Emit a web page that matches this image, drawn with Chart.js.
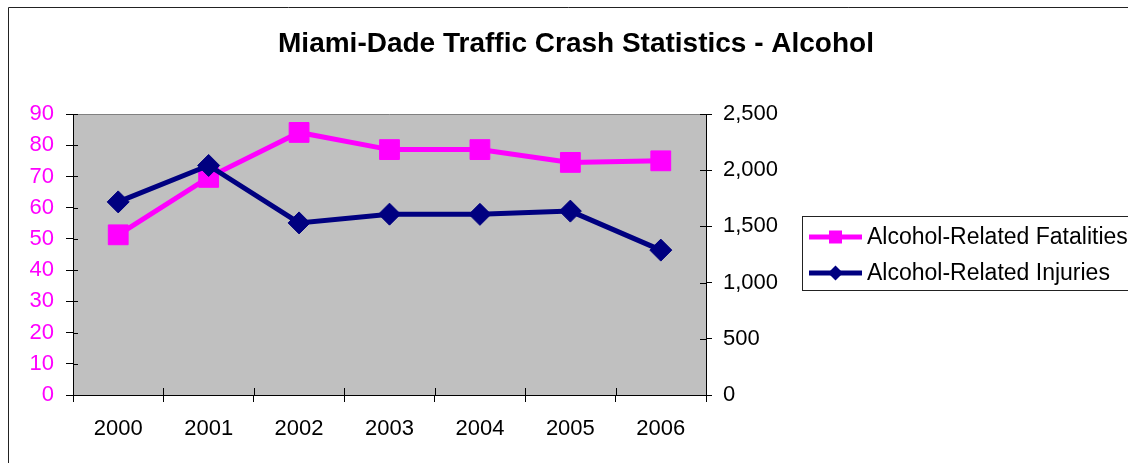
<!DOCTYPE html>
<html>
<head>
<meta charset="utf-8">
<script src="https://cdn.jsdelivr.net/npm/chart.js@4.4.1/dist/chart.umd.min.js"></script>
<style>
  html, body { margin: 0; padding: 0; background: #fff; }
  #wrap { width: 1128px; height: 463px; position: relative; }
</style>
</head>
<body>
<div id="wrap"><canvas id="chart"></canvas></div>
<script>
const title = 'Miami-Dade Traffic Crash Statistics - Alcohol';
const years = ['2000', '2001', '2002', '2003', '2004', '2005', '2006'];
const fatalities = [51.3, 69.7, 84.1, 78.6, 78.6, 74.5, 75.0];
const injuries = [1718, 2042, 1531, 1609, 1607, 1636, 1289];
const seriesNames = ['Alcohol-Related Fatalities', 'Alcohol-Related Injuries'];

const FONT = '"Liberation Sans", Arial, sans-serif';
const MAGENTA = '#FF00FF';
const NAVY = '#000080';

// frame, title, plot background, inner tick marks and the boxed legend
const excelLook = {
    id: 'excelLook',
    beforeDraw(chart) {
        const {ctx, chartArea: a} = chart;
        ctx.save();
        ctx.fillStyle = '#C0C0C0';
        ctx.fillRect(a.left, a.top, a.right - a.left, a.bottom - a.top);
        ctx.strokeStyle = '#808080';
        ctx.lineWidth = 1;
        ctx.beginPath();
        ctx.moveTo(a.left, a.top + 0.5);
        ctx.lineTo(a.right, a.top + 0.5);
        ctx.stroke();

        ctx.strokeStyle = '#222';
        ctx.beginPath();
        ctx.moveTo(8.5, 463);
        ctx.lineTo(8.5, 7.5);
        ctx.lineTo(1128, 7.5);
        ctx.stroke();

        ctx.fillStyle = '#000';
        ctx.font = 'bold 28px ' + FONT;
        ctx.textAlign = 'center';
        ctx.textBaseline = 'alphabetic';
        ctx.fillText(title, 576, 52);
        ctx.restore();
    },
    afterDraw(chart) {
        const {ctx, chartArea: a, scales} = chart;
        ctx.save();
        ctx.strokeStyle = '#000';
        ctx.lineWidth = 1;
        ctx.beginPath();
        scales.y.ticks.forEach(t => {
            const y = Math.round(scales.y.getPixelForValue(t.value)) + 0.5;
            ctx.moveTo(a.left, y); ctx.lineTo(a.left + 5, y);
        });
        scales.y1.ticks.forEach(t => {
            const y = Math.round(scales.y1.getPixelForValue(t.value)) + 0.5;
            ctx.moveTo(a.right - 6, y); ctx.lineTo(a.right, y);
        });
        for (let i = 0; i <= years.length; i++) {
            const x = Math.round(a.left + i * (a.right - a.left) / years.length) + 0.5;
            ctx.moveTo(x, a.bottom - 7); ctx.lineTo(x, a.bottom);
        }
        ctx.stroke();

        // legend box
        ctx.strokeStyle = '#222';
        ctx.strokeRect(802.5, 216.5, 340, 74);
        ctx.font = '23px ' + FONT;
        ctx.textAlign = 'left';
        ctx.textBaseline = 'middle';
        const rows = [
            {y: 237, color: MAGENTA, shape: 'rect'},
            {y: 273, color: NAVY, shape: 'diamond'}
        ];
        rows.forEach((r, i) => {
            ctx.strokeStyle = r.color;
            ctx.fillStyle = r.color;
            ctx.lineWidth = 5;
            ctx.beginPath();
            ctx.moveTo(809, r.y); ctx.lineTo(862, r.y);
            ctx.stroke();
            ctx.beginPath();
            if (r.shape === 'rect') {
                ctx.rect(829, r.y - 6.5, 13, 13);
            } else {
                ctx.moveTo(835.5, r.y - 7.5);
                ctx.lineTo(843, r.y);
                ctx.lineTo(835.5, r.y + 7.5);
                ctx.lineTo(828, r.y);
                ctx.closePath();
            }
            ctx.fill();
            ctx.fillStyle = '#000';
            ctx.fillText(seriesNames[i], 867, r.y + 1);
        });
        ctx.restore();
    }
};

new Chart(document.getElementById('chart'), {
    type: 'line',
    data: {
        labels: years,
        datasets: [{
            label: seriesNames[0],
            data: fatalities,
            yAxisID: 'y',
            borderColor: MAGENTA,
            backgroundColor: MAGENTA,
            borderWidth: 5,
            pointStyle: 'rect',
            pointRadius: 14,
            pointBorderWidth: 1,
            pointHoverRadius: 14,
            tension: 0,
            order: 1
        }, {
            label: seriesNames[1],
            data: injuries,
            yAxisID: 'y1',
            borderColor: NAVY,
            backgroundColor: NAVY,
            borderWidth: 5,
            pointStyle: 'rectRot',
            pointRadius: 11,
            pointBorderWidth: 1,
            pointHoverRadius: 11,
            tension: 0,
            order: 0
        }]
    },
    options: {
        responsive: true,
        maintainAspectRatio: false,
        animation: false,
        layout: {
            padding: { top: 114, right: 342, bottom: 0, left: 0 }
        },
        scales: {
            x: {
                offset: true,
                afterFit: s => { s.height = 68; },
                grid: {
                    offset: true,
                    drawOnChartArea: false,
                    tickLength: 7,
                    color: '#000'
                },
                border: { color: '#000', width: 1 },
                ticks: {
                    color: '#000',
                    padding: 14,
                    font: { family: FONT, size: 22 }
                }
            },
            y: {
                position: 'left',
                min: 0,
                max: 90,
                afterFit: s => { s.width = 73; },
                grid: {
                    drawOnChartArea: false,
                    tickLength: 7,
                    color: '#000'
                },
                border: { color: '#000', width: 1 },
                ticks: {
                    stepSize: 10,
                    color: MAGENTA,
                    padding: 12,
                    font: { family: FONT, size: 22 }
                }
            },
            y1: {
                position: 'right',
                min: 0,
                max: 2500,
                afterFit: s => { s.width = 80; },
                grid: {
                    drawOnChartArea: false,
                    tickLength: 6,
                    color: '#000'
                },
                border: { color: '#000', width: 1 },
                ticks: {
                    stepSize: 500,
                    color: '#000',
                    padding: 11,
                    font: { family: FONT, size: 22 },
                    callback: v => v.toLocaleString('en-US')
                }
            }
        },
        plugins: {
            legend: { display: false },
            title: { display: false },
            tooltip: { enabled: false }
        }
    },
    plugins: [excelLook]
});
</script>
</body>
</html>
